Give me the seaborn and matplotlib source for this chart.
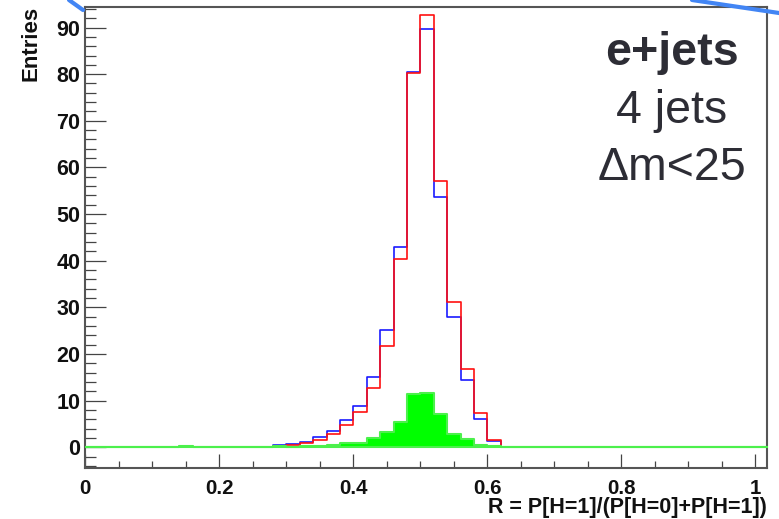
import numpy as np
import pandas as pd
import matplotlib
matplotlib.use("Agg")
import matplotlib.pyplot as plt
import seaborn as sns
from matplotlib.lines import Line2D
from matplotlib.ticker import MultipleLocator

# ---------------- data ----------------
bin_edges = [round(0.02 * i, 2) for i in range(52)]  # 0.00 ... 1.02

blue_centers = [0.29, 0.31, 0.33, 0.35, 0.37, 0.39, 0.41, 0.43, 0.45,
                0.47, 0.49, 0.51, 0.53, 0.55, 0.57, 0.59, 0.61]
blue_counts = [0.4, 0.8, 1.2, 2.3, 3.6, 5.9, 8.8, 15.1, 25.1,
               42.9, 80.5, 89.6, 53.7, 27.9, 14.4, 6.0, 1.4]

red_centers = blue_centers
red_counts = [0.3, 0.4, 0.9, 1.6, 2.8, 4.7, 7.6, 12.8, 21.8,
              40.4, 80.2, 92.7, 57.0, 31.2, 16.7, 7.3, 1.6]

green_centers = [0.15, 0.29, 0.33, 0.35, 0.37, 0.39, 0.41, 0.43, 0.45,
                 0.47, 0.49, 0.51, 0.53, 0.55, 0.57, 0.59, 0.61]
green_counts = [0.3, 0.3, 0.2, 0.3, 0.4, 0.9, 1.0, 2.1, 3.2,
                5.5, 11.4, 11.6, 7.1, 2.9, 1.8, 0.5, 0.3]

x_ticks = [0.0, 0.2, 0.4, 0.6, 0.8, 1.0]
x_tick_labels = ["0", "0.2", "0.4", "0.6", "0.8", "1"]
y_ticks = [0, 10, 20, 30, 40, 50, 60, 70, 80, 90]
y_tick_labels = ["0", "10", "20", "30", "40", "50", "60", "70", "80", "90"]

x_title = "R = P[H=1]/(P[H=0]+P[H=1])"
y_title = "Entries"
box_lines = ["e+jets", "4 jets", "Δm<25"]

df_blue = pd.DataFrame({"R": blue_centers, "w": blue_counts})
df_red = pd.DataFrame({"R": red_centers, "w": red_counts})
df_green = pd.DataFrame({"R": green_centers, "w": green_counts})

# ---------------- style ----------------
sns.set_style("ticks")
plt.rcParams["font.family"] = ["Liberation Sans", "DejaVu Sans"]

W, H = 779, 519
fig = plt.figure(figsize=(W / 100, H / 100), dpi=100)
ax = fig.add_axes([85.3 / W, 1 - 468.3 / H, (766.7 - 85.3) / W, (468.3 - 7) / H])

sns.histplot(data=df_blue, x="R", weights="w", bins=bin_edges, element="step",
             fill=False, color="#1a1aff", linewidth=1.2, zorder=2, ax=ax)
sns.histplot(data=df_red, x="R", weights="w", bins=bin_edges, element="step",
             fill=False, color="#ff1010", linewidth=1.2, zorder=2.1, ax=ax)
sns.histplot(data=df_green, x="R", weights="w", bins=bin_edges, element="step",
             fill=True, color="#00ff00", alpha=1.0, edgecolor="#4cf04c",
             linewidth=1.5, zorder=3, ax=ax)

ax.set_xlim(0.0, 1.017)
ax.set_ylim(-4.5, 94.4)
ax.set_xlabel("")
ax.set_ylabel("")

ax.set_xticks(x_ticks, x_tick_labels)
ax.set_yticks(y_ticks, y_tick_labels)
ax.xaxis.set_minor_locator(MultipleLocator(0.05))
ax.yaxis.set_minor_locator(MultipleLocator(2))
ax.tick_params(axis="both", which="both", direction="in", color="#444444",
               width=0.9, labelcolor="#111111",
               bottom=True, left=True, top=False, right=False)
ax.tick_params(axis="y", which="major", length=15, pad=3.5, labelsize=15.5)
ax.tick_params(axis="y", which="minor", length=7.8)
ax.tick_params(axis="x", which="major", length=10, pad=8, labelsize=14.8)
ax.tick_params(axis="x", which="minor", length=5)
for lab in ax.get_xticklabels() + ax.get_yticklabels():
    lab.set_fontweight("bold")
for s in ax.spines.values():
    s.set_visible(True)
    s.set_color("#555555")
    s.set_linewidth(1.5)
ax.grid(False)

# axis titles (ROOT style: at the end of the axes)
ax.text(1.0, (468.3 - 513) / 461.3, x_title, transform=ax.transAxes,
        ha="right", va="baseline", fontsize=15.5, fontweight="bold", color="#111111")
fig.text(31 / W, 1 - 6 / H, y_title, rotation=90, ha="center", va="top",
         fontsize=16, fontweight="bold", color="#111111")

# annotation text
txt_col = "#2d2d35"
fig.text(672 / W, 1 - 65 / H, box_lines[0], ha="center", va="baseline",
         fontsize=33.5, fontweight="bold", color=txt_col)
fig.text(672 / W, 1 - 123 / H, box_lines[1], ha="center", va="baseline",
         fontsize=33.5, color=txt_col)
fig.text(672 / W, 1 - 180 / H, box_lines[2], ha="center", va="baseline",
         fontsize=33.5, color=txt_col)

# slide decoration strokes (blue ellipse edges)
fig.add_artist(Line2D([69 / W, 83 / W], [1.0, 1 - 10 / H], color="#4285f4",
                      lw=3, transform=fig.transFigure))
fig.add_artist(Line2D([692 / W, 779 / W], [1.0, 1 - 13 / H], color="#4285f4",
                      lw=3, transform=fig.transFigure))

fig.savefig("out.png", dpi=100, facecolor="white")
